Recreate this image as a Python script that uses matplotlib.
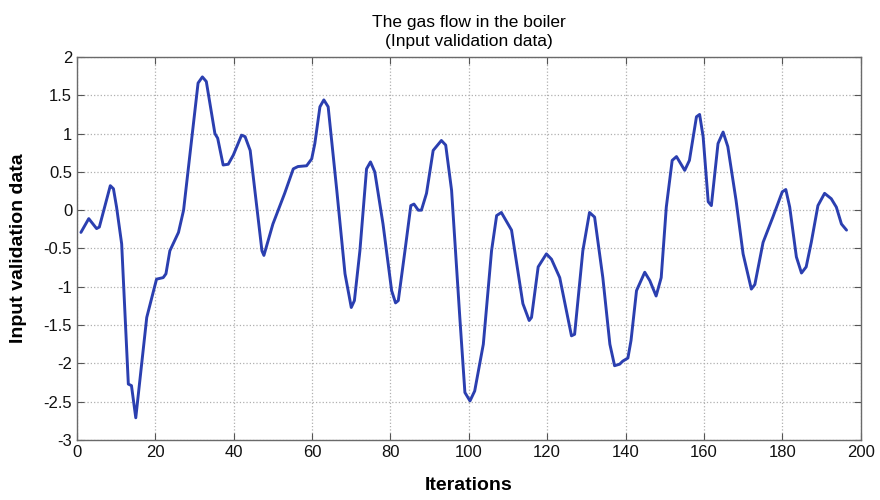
import matplotlib.pyplot as plt

# gas flow samples, validation input
iterations = [
    1.0, 3.0, 5.0, 5.7, 8.5, 9.3, 10.1, 11.4, 13.1, 13.9, 15.0, 17.8, 20.3, 22.0,
    22.7, 23.7, 25.9, 27.2, 30.9, 32.0, 33.0, 35.2, 35.9, 37.3, 38.6, 39.9, 42.0,
    42.9, 44.2, 47.2, 47.7, 50.0, 53.0, 55.2, 56.4, 58.6, 59.9, 60.7, 62.0, 63.0,
    64.1, 66.3, 68.4, 70.0, 70.8, 72.2, 73.9, 74.9, 76.0, 78.1, 80.3, 81.3, 82.0,
    83.7, 85.2, 86.0, 87.1, 87.9, 89.2, 90.9, 93.0, 94.1, 95.6, 97.7, 99.0, 100.3,
    101.5, 103.7, 105.8, 107.1, 108.3, 110.9, 113.8, 115.4, 116.0, 117.7, 119.8,
    121.1, 123.2, 126.2, 127.0, 129.1, 130.8, 132.1, 134.2, 136.0, 137.2, 138.5,
    139.3, 140.6, 141.4, 142.8, 144.9, 146.2, 147.8, 149.1, 150.4, 151.9, 153.0,
    155.1, 156.3, 158.1, 158.9, 159.8, 161.1, 161.9, 163.6, 164.9, 166.1, 168.2,
    170.0, 172.1, 173.0, 175.1, 177.6, 180.0, 180.9, 181.9, 183.6, 184.9, 186.1,
    187.4, 189.1, 190.8, 192.5, 193.8, 195.1, 196.4,
]
gas_flow = [
    -0.29, -0.11, -0.24, -0.22, 0.32, 0.28, 0.04, -0.44, -2.27, -2.29, -2.71, -1.40,
    -0.90, -0.88, -0.83, -0.53, -0.29, 0.00, 1.66, 1.74, 1.68, 1.00, 0.94, 0.59,
    0.60, 0.72, 0.98, 0.96, 0.78, -0.53, -0.59, -0.18, 0.22, 0.54, 0.57, 0.58, 0.67,
    0.87, 1.35, 1.44, 1.35, 0.26, -0.83, -1.27, -1.18, -0.53, 0.54, 0.63, 0.50,
    -0.18, -1.05, -1.21, -1.18, -0.53, 0.06, 0.08, 0.00, 0.00, 0.22, 0.78, 0.91,
    0.85, 0.26, -1.40, -2.38, -2.49, -2.36, -1.75, -0.53, -0.07, -0.03, -0.26,
    -1.22, -1.44, -1.40, -0.74, -0.57, -0.64, -0.88, -1.64, -1.62, -0.53, -0.03,
    -0.09, -0.88, -1.75, -2.03, -2.01, -1.97, -1.93, -1.70, -1.05, -0.81, -0.92,
    -1.12, -0.88, 0.04, 0.65, 0.70, 0.52, 0.65, 1.22, 1.25, 0.96, 0.11, 0.06, 0.87,
    1.02, 0.83, 0.13, -0.57, -1.03, -0.97, -0.42, -0.09, 0.24, 0.27, 0.04, -0.61,
    -0.82, -0.74, -0.42, 0.06, 0.22, 0.15, 0.04, -0.18, -0.26,
]
x_ticks = list(range(0, 201, 20))
y_ticks = [-3, -2.5, -2, -1.5, -1, -0.5, 0, 0.5, 1, 1.5, 2]
y_labels = ["-3", "-2.5", "-2", "-1.5", "-1", "-0.5", "0", "0.5", "1", "1.5", "2"]

plt.rcParams["font.family"] = ["Liberation Sans", "DejaVu Sans"]

fig = plt.figure(figsize=(8.8, 5.0), dpi=100)
ax = fig.add_axes([0.0875, 0.12, 0.8905, 0.766])

ax.plot(iterations, gas_flow, color="#2b3fb0", linewidth=2.1,
        solid_joinstyle="round", solid_capstyle="round")

ax.set_xlim(0, 200)
ax.set_ylim(-3, 2)
ax.set_xticks(x_ticks)
ax.set_yticks(y_ticks)
ax.set_yticklabels(y_labels)
ax.grid(True, linestyle=":", color="#b0b0b0", linewidth=0.9)
ax.tick_params(direction="in", top=True, right=True, length=5,
               labelsize=12, colors="#555555", labelcolor="#111111")
for spine in ax.spines.values():
    spine.set_color("#6a6a6a")
    spine.set_linewidth(1.0)

ax.set_title("The gas flow in the boiler\n(Input validation data)",
             fontsize=12.5, pad=8, linespacing=1.3)
ax.set_xlabel("Iterations", fontsize=14, fontweight="bold", labelpad=12)
ax.set_ylabel("Input validation data", fontsize=14, fontweight="bold", labelpad=12)

fig.savefig("out.png", dpi=100)
